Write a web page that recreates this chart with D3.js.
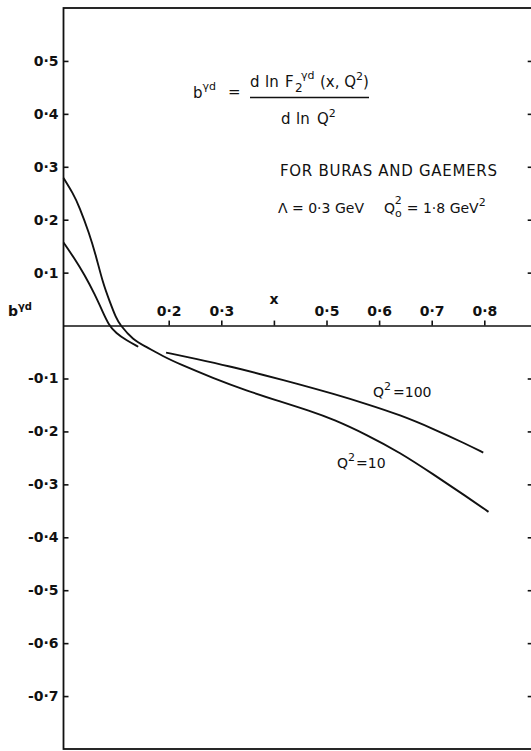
<!DOCTYPE html>
<html>
<head>
<meta charset="utf-8">
<script src="https://cdn.jsdelivr.net/npm/d3@7"></script>
<style>
  body { margin: 0; background: #fff; }
  text { font-family: "DejaVu Sans", sans-serif; fill: #111; }
  .tick text { font-size: 14px; font-weight: bold; }
  .tick line, .domain { stroke: #111; stroke-width: 1.6; }
</style>
</head>
<body>
<div id="chart-area"></div>
<script>
// page size
const WIDTH = 531
const HEIGHT = 751

// values
// Q^2 = 10, one curve over the whole range
const q10X = [0, 0.018, 0.030, 0.049, 0.062, 0.075, 0.088, 0.100, 0.107, 0.132, 0.157, 0.189, 0.221, 0.284, 0.348, 0.411, 0.468, 0.513, 0.576, 0.640, 0.703, 0.766, 0.808]
const q10Y = [0.279, 0.250, 0.225, 0.174, 0.131, 0.080, 0.045, 0.014, 0.002, -0.027, -0.040, -0.058, -0.073, -0.099, -0.123, -0.143, -0.161, -0.177, -0.206, -0.240, -0.281, -0.323, -0.352]

// Q^2 = 100, small x part
const q100aX = [0, 0.020, 0.040, 0.060, 0.075, 0.085, 0.100, 0.120, 0.142]
const q100aY = [0.157, 0.128, 0.096, 0.058, 0.025, 0.003, -0.015, -0.028, -0.040]

// Q^2 = 100, large x part
const q100bX = [0.195, 0.253, 0.316, 0.379, 0.449, 0.513, 0.576, 0.640, 0.703, 0.766, 0.798]
const q100bY = [-0.051, -0.063, -0.077, -0.093, -0.111, -0.129, -0.148, -0.169, -0.195, -0.224, -0.240]

// ticks
const yTicks = [0.5, 0.4, 0.3, 0.2, 0.1, -0.1, -0.2, -0.3, -0.4, -0.5, -0.6, -0.7]
const xTicks = [0.2, 0.3, 0.4, 0.5, 0.6, 0.7, 0.8]

const svg = d3.select("#chart-area").append("svg")
  .attr("width", WIDTH)
  .attr("height", HEIGHT)

// scales
const x = d3.scaleLinear()
  .domain([0, 0.892])
  .range([63.5, 532.7])

const y = d3.scaleLinear()
  .domain([-0.8, 0.6])
  .range([749, 8])

const fmt = d => d3.format(".1f")(d).replace("−", "-").replace(".", "·")

// frame
svg.append("rect")
  .attr("x", x(0))
  .attr("y", y(0.6))
  .attr("width", x(0.892) - x(0))
  .attr("height", y(-0.8) - y(0.6))
  .attr("fill", "none")
  .attr("stroke", "#111")
  .attr("stroke-width", 1.8)

// left axis, ticks pointing in
const yAxisCall = d3.axisLeft(y)
  .tickValues(yTicks)
  .tickSize(-5)
  .tickPadding(5)
  .tickFormat(fmt)
svg.append("g")
  .attr("class", "yaxis")
  .attr("transform", `translate(${x(0)}, 0)`)
  .call(yAxisCall)
  .call(g => g.select(".domain").remove())

// right axis, ticks only
svg.append("g")
  .attr("class", "yaxis-right")
  .attr("transform", `translate(${x(0.892)}, 0)`)
  .call(d3.axisRight(y).tickValues(yTicks).tickSize(-5).tickFormat(""))
  .call(g => g.select(".domain").remove())

// x axis on the zero line
const xAxisCall = d3.axisTop(x)
  .tickValues(xTicks)
  .tickSize(5)
  .tickSizeOuter(0)
  .tickPadding(5)
  .tickFormat(d => d === 0.4 ? "" : fmt(d))
svg.append("g")
  .attr("class", "xaxis")
  .attr("transform", `translate(0, ${y(0)})`)
  .call(xAxisCall)

svg.append("text")
  .attr("x", x(0.4))
  .attr("y", y(0) - 22)
  .attr("text-anchor", "middle")
  .attr("font-size", "14px")
  .attr("font-weight", "bold")
  .text("x")

// y label
const yLab = svg.append("text")
  .attr("x", 8)
  .attr("y", 316)
  .attr("font-size", "14px")
  .attr("font-weight", "bold")
yLab.append("tspan").text("b")
yLab.append("tspan").attr("dy", -6).attr("font-size", "10px").text("γd")

// curves
const line = d3.line()
  .x(d => x(d[0]))
  .y(d => y(d[1]))
  .curve(d3.curveBasis)

const series = [
  d3.zip(q10X, q10Y),
  d3.zip(q100aX, q100aY),
  d3.zip(q100bX, q100bY)
]
svg.selectAll("path.curve")
  .data(series)
  .enter().append("path")
  .attr("class", "curve")
  .attr("d", line)
  .attr("fill", "none")
  .attr("stroke", "#111")
  .attr("stroke-width", 1.9)

// formula
const f = svg.append("g").attr("font-size", "15px")
const lhs = f.append("text").attr("x", 193).attr("y", 98)
lhs.append("tspan").text("b")
lhs.append("tspan").attr("dy", -8).attr("font-size", "11px").text("γd")
f.append("text").attr("x", 228).attr("y", 97).text("=")

const num = f.append("text").attr("y", 87)
num.append("tspan").attr("x", 250).text("d")
num.append("tspan").attr("x", 265).text("ln")
num.append("tspan").attr("x", 285).text("F")
num.append("tspan").attr("x", 295).attr("dy", 5).attr("font-size", "12px").text("2")
num.append("tspan").attr("x", 301).attr("dy", -13).attr("font-size", "11px").text("γd")
num.append("tspan").attr("x", 320).attr("dy", 8).text("(x, Q")
num.append("tspan").attr("dy", -7).attr("font-size", "11px").text("2")
num.append("tspan").attr("dy", 7).text(")")

f.append("line")
  .attr("x1", 250).attr("x2", 369)
  .attr("y1", 97.5).attr("y2", 97.5)
  .attr("stroke", "#111")
  .attr("stroke-width", 1.6)

const den = f.append("text").attr("y", 124)
den.append("tspan").attr("x", 281).text("d")
den.append("tspan").attr("x", 296).text("ln")
den.append("tspan").attr("x", 317).text("Q")
den.append("tspan").attr("dy", -7).attr("font-size", "11px").text("2")

// notes
svg.append("text")
  .attr("x", 280)
  .attr("y", 176)
  .attr("font-size", "15px")
  .attr("textLength", 217)
  .text("FOR BURAS AND GAEMERS")

const p1 = svg.append("text").attr("x", 278).attr("y", 213).attr("font-size", "14px")
p1.append("tspan").text("Λ = 0·3 GeV")
const p2 = svg.append("text").attr("x", 384).attr("y", 213).attr("font-size", "14px")
p2.append("tspan").text("Q")
p2.append("tspan").attr("dy", 4).attr("font-size", "11px").text("o")
p2.append("tspan").attr("dy", -13).attr("dx", -7).attr("font-size", "11px").text("2")
p2.append("tspan").attr("dy", 9).attr("dx", 5).text("= 1·8 GeV")
p2.append("tspan").attr("dy", -7).attr("font-size", "11px").text("2")

const l100 = svg.append("text").attr("x", 373).attr("y", 397).attr("font-size", "14px")
l100.append("tspan").text("Q")
l100.append("tspan").attr("dy", -7).attr("font-size", "11px").text("2")
l100.append("tspan").attr("dy", 7).attr("dx", 2).text("=100")

const l10 = svg.append("text").attr("x", 337).attr("y", 468).attr("font-size", "14px")
l10.append("tspan").text("Q")
l10.append("tspan").attr("dy", -7).attr("font-size", "11px").text("2")
l10.append("tspan").attr("dy", 7).attr("dx", 1).text("=10")
</script>
</body>
</html>
